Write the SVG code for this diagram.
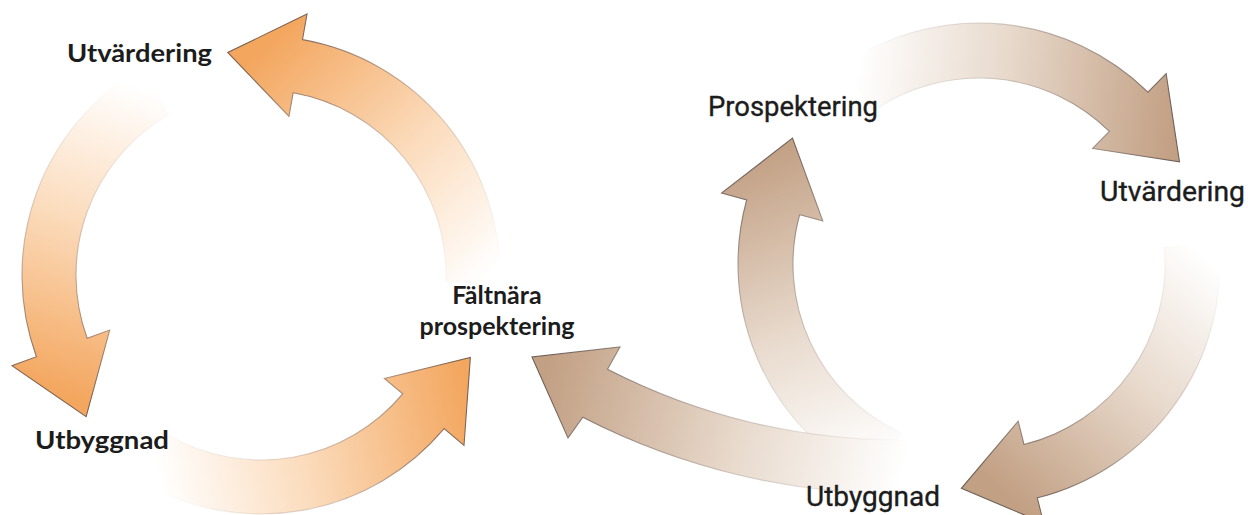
<svg xmlns="http://www.w3.org/2000/svg" xmlns:xlink="http://www.w3.org/1999/xlink" width="1248" height="515" viewBox="0 0 1248 515">
<style>
.arrow{stroke-width:1.1;stroke-linejoin:miter}
.lb{font-family:"Lato","Liberation Sans",sans-serif;font-weight:700;font-size:25px;fill:#1c1c1c}
.lr{font-family:"Roboto","Liberation Sans",sans-serif;font-weight:400;font-size:27px;fill:#1c1c1c;stroke:#1c1c1c;stroke-width:0.35}
</style>
<defs>
<linearGradient id="orange"><stop offset="0" stop-color="#FFFFFF"/><stop offset="0.45" stop-color="#FBDCBD"/><stop offset="1" stop-color="#F3A65E"/></linearGradient>
<linearGradient id="orangeS"><stop offset="0" stop-color="#C8B0A0" stop-opacity="0"/><stop offset="0.5" stop-color="#B09080" stop-opacity="0.5"/><stop offset="1" stop-color="#7A6050"/></linearGradient>
<linearGradient id="tan"><stop offset="0" stop-color="#FFFFFF"/><stop offset="0.45" stop-color="#E8DACD"/><stop offset="1" stop-color="#C2A084"/></linearGradient>
<linearGradient id="tanS"><stop offset="0" stop-color="#B0A098" stop-opacity="0"/><stop offset="0.5" stop-color="#9A8A80" stop-opacity="0.5"/><stop offset="1" stop-color="#6E6058"/></linearGradient>
<linearGradient id="gL1" xlink:href="#orange" gradientUnits="userSpaceOnUse" x1="472" y1="290" x2="250" y2="60"/>
<linearGradient id="sL1" xlink:href="#orangeS" gradientUnits="userSpaceOnUse" x1="472" y1="290" x2="250" y2="60"/>
<linearGradient id="gL2" xlink:href="#orange" gradientUnits="userSpaceOnUse" x1="155" y1="92" x2="60" y2="395"/>
<linearGradient id="sL2" xlink:href="#orangeS" gradientUnits="userSpaceOnUse" x1="155" y1="92" x2="60" y2="395"/>
<linearGradient id="gL3" xlink:href="#orange" gradientUnits="userSpaceOnUse" x1="155" y1="460" x2="470" y2="400"/>
<linearGradient id="sL3" xlink:href="#orangeS" gradientUnits="userSpaceOnUse" x1="155" y1="460" x2="470" y2="400"/>
<linearGradient id="gR1" xlink:href="#tan" gradientUnits="userSpaceOnUse" x1="855" y1="88" x2="1175" y2="120"/>
<linearGradient id="sR1" xlink:href="#tanS" gradientUnits="userSpaceOnUse" x1="855" y1="88" x2="1175" y2="120"/>
<linearGradient id="gR2" xlink:href="#tan" gradientUnits="userSpaceOnUse" x1="1192" y1="245" x2="990" y2="480"/>
<linearGradient id="sR2" xlink:href="#tanS" gradientUnits="userSpaceOnUse" x1="1192" y1="245" x2="990" y2="480"/>
<linearGradient id="gR3" xlink:href="#tan" gradientUnits="userSpaceOnUse" x1="890" y1="455" x2="770" y2="150"/>
<linearGradient id="sR3" xlink:href="#tanS" gradientUnits="userSpaceOnUse" x1="890" y1="455" x2="770" y2="150"/>
<linearGradient id="gR4" xlink:href="#tan" gradientUnits="userSpaceOnUse" x1="905" y1="465" x2="545" y2="380"/>
<linearGradient id="sR4" xlink:href="#tanS" gradientUnits="userSpaceOnUse" x1="905" y1="465" x2="545" y2="380"/>
</defs>
<rect width="1248" height="515" fill="#FFFFFF"/>
<g id="connectors">
<path id="arrow-left-top" class="arrow" fill="url(#gL1)" stroke="url(#sL1)" d="M499.85,283.34 A239,239 0 0 0 302.5,39.63 L307.02,14.03 L227.74,52.47 L288.96,116.45 L293.13,92.81 A185,185 0 0 1 445.89,281.46 Z"/>
<path id="arrow-left-left" class="arrow" fill="url(#gL2)" stroke="url(#sL2)" d="M141.5,68.02 A239,239 0 0 0 36.41,356.74 L11.98,365.64 L86.14,416.6 L109.71,330.07 L87.16,338.27 A185,185 0 0 1 168.5,114.78 Z"/>
<path id="arrow-left-bottom" class="arrow" fill="url(#gL3)" stroke="url(#sL3)" d="M141.5,481.98 A239,239 0 0 0 444.08,428.63 L464,445.34 L470.34,357.46 L384.33,378.49 L402.72,393.92 A185,185 0 0 1 168.5,435.22 Z"/>
<path id="arrow-right-top" class="arrow" fill="url(#gR1)" stroke="url(#sR1)" d="M842.5,65.38 A241,241 0 0 1 1147.92,92.11 L1166.14,73.56 L1179.48,161.85 L1092.55,148.45 L1109.37,131.34 A186,186 0 0 0 873.65,110.71 Z"/>
<path id="arrow-right-right" class="arrow" fill="url(#gR2)" stroke="url(#sR2)" d="M1219.08,243 A241,241 0 0 1 1037.3,497.84 L1043.59,523.07 L961.35,488.31 L1018.19,421.19 L1024,444.48 A186,186 0 0 0 1164.29,247.79 Z"/>
<path id="arrow-right-leftup" class="arrow" fill="url(#gR3)" stroke="url(#sR3)" d="M877.15,482.42 A241,241 0 0 1 746.65,200 L721.59,193.1 L792.47,138.18 L822.82,220.98 L799.68,214.61 A186,186 0 0 0 900.39,432.57 Z"/>
<path id="arrow-right-bottomleft" class="arrow" fill="url(#gR4)" stroke="url(#sR4)" d="M906.1,494 A694,694 0 0 1 582.8,417.3 L568,438 L532,357 L620,347 L607.5,369.2 A640,640 0 0 0 905.6,440 Z"/>
</g>
<g id="node-left-utvardering"><text class="lb" x="67" y="62" textLength="145" lengthAdjust="spacingAndGlyphs">Utvärdering</text></g>
<g id="node-left-utbyggnad"><text class="lb" x="35" y="449" textLength="134" lengthAdjust="spacingAndGlyphs">Utbyggnad</text></g>
<g id="node-faltnara"><text class="lb" x="497" y="304" text-anchor="middle">Fältnära</text><text class="lb" x="497" y="335" text-anchor="middle">prospektering</text></g>
<g id="node-right-prospektering"><text class="lr" x="708" y="116" textLength="170" lengthAdjust="spacingAndGlyphs">Prospektering</text></g>
<g id="node-right-utvardering"><text class="lr" x="1100" y="201" textLength="145" lengthAdjust="spacingAndGlyphs">Utvärdering</text></g>
<g id="node-right-utbyggnad"><text class="lr" x="806" y="506" textLength="134" lengthAdjust="spacingAndGlyphs">Utbyggnad</text></g>
</svg>
